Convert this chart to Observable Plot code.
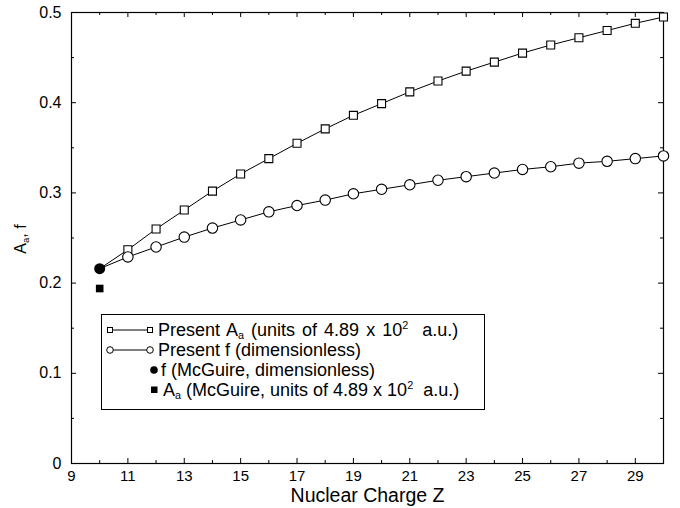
<!DOCTYPE html>
<html><head><meta charset="utf-8">
<script src="https://cdn.jsdelivr.net/npm/d3@7"></script>
<script src="https://cdn.jsdelivr.net/npm/@observablehq/plot@0.6"></script>
<style>
body{margin:0;background:#fff;font-family:"Liberation Sans",Arial,Helvetica,sans-serif;}
#wrap{position:relative;width:680px;height:508px;}
#legend{position:absolute;left:101px;top:314px;width:384px;height:96px;border:1px solid #000;background:#fff;box-sizing:border-box;font-size:18px;color:#000;}
.row{position:absolute;left:0;height:20px;line-height:20px;white-space:nowrap;}
.row svg{position:absolute;left:0;top:0;}
.row span{position:absolute;left:56px;top:0;line-height:20px;}
sub,sup{font-size:60%;line-height:0;vertical-align:baseline;position:relative;}
sub{top:0.3em;}
sup{top:-0.65em;}
#ylab{position:absolute;left:21px;top:239px;transform:translate(-50%,-50%) rotate(-90deg);font-size:16px;white-space:nowrap;}
</style></head>
<body><div id="wrap"><div id="chart"></div>
<div id="ylab">A<sub>a</sub>, f</div>
<div id="legend"></div>
</div>
<script>
// Data
const Z = [10,11,12,13,14,15,16,17,18,19,20,21,22,23,24,25,26,27,28,29,30];
const presentA = [0.216,0.237,0.260,0.281,0.302,0.321,0.338,0.355,0.371,0.386,0.399,0.412,0.424,0.435,0.445,0.455,0.464,0.472,0.480,0.488,0.495];
const presentF = [0.216,0.229,0.240,0.251,0.261,0.270,0.279,0.286,0.292,0.299,0.304,0.309,0.314,0.318,0.322,0.326,0.329,0.333,0.335,0.338,0.341];
const mcZ = [10];
const mcF = [0.216];
const mcA = [0.194];
const xMajor = [9,11,13,15,17,19,21,23,25,27,29];
const xMinor = [10,12,14,16,18,20,22,24,26,28];
const yMajor = [0,0.1,0.2,0.3,0.4,0.5];
const yMinor = [0.05,0.15,0.25,0.35,0.45];

const W=680,H=508,mL=71,mR=17,mT=12,mB=45;
const innerH=H-mT-mB, innerW=W-mL-mR;
const rowsA = Z.map((z,i)=>({z, v: presentA[i]}));
const rowsF = Z.map((z,i)=>({z, v: presentF[i]}));
const mcRowsF = mcZ.map((z,i)=>({z, v: mcF[i]}));
const mcRowsA = mcZ.map((z,i)=>({z, v: mcA[i]}));
const font = '"Liberation Sans",Arial,Helvetica,sans-serif';

const chart = Plot.plot({
  width:W, height:H, marginLeft:mL, marginRight:mR, marginTop:mT, marginBottom:mB,
  x:{domain:[9,30]}, y:{domain:[0,0.5]},
  style:{fontFamily:font, fontSize:"15px", color:"#000", background:"#fff", overflow:"visible"},
  marks:[
    Plot.frame({stroke:"#000", strokeWidth:1.2}),
    Plot.ruleX(xMajor,{x:d=>d, insetTop:innerH-5, stroke:"#000"}),
    Plot.ruleX(xMajor,{x:d=>d, insetBottom:innerH-5, stroke:"#000"}),
    Plot.ruleX(xMinor,{x:d=>d, insetTop:innerH-3, stroke:"#000"}),
    Plot.ruleX(xMinor,{x:d=>d, insetBottom:innerH-3, stroke:"#000"}),
    Plot.ruleY(yMajor,{y:d=>d, insetRight:innerW-5, stroke:"#000"}),
    Plot.ruleY(yMajor,{y:d=>d, insetLeft:innerW-5, stroke:"#000"}),
    Plot.ruleY(yMinor,{y:d=>d, insetRight:innerW-3, stroke:"#000"}),
    Plot.ruleY(yMinor,{y:d=>d, insetLeft:innerW-3, stroke:"#000"}),
    Plot.axisX(xMajor,{tickSize:0, tickPadding:7, label:null, fontSize:15}),
    Plot.axisY(yMajor,{tickSize:0, tickPadding:10, tickFormat:d=>String(d), label:null, fontSize:16}),
    Plot.text(["Nuclear Charge Z"],{frameAnchor:"bottom", dy:38, fontSize:19.5}),
    Plot.line(rowsA,{x:"z", y:"v", stroke:"#000", strokeWidth:1}),
    Plot.line(rowsF,{x:"z", y:"v", stroke:"#000", strokeWidth:1}),
    Plot.dot(rowsA.filter(d=>d.z>10),{x:"z", y:"v", symbol:"square", r:4.5, stroke:"#000", fill:"#fff", strokeWidth:1.1}),
    Plot.dot(rowsF.filter(d=>d.z>10),{x:"z", y:"v", symbol:"circle", r:5.2, stroke:"#000", fill:"#fff", strokeWidth:1.1}),
    Plot.dot(mcRowsF,{x:"z", y:"v", symbol:"circle", r:5.5, fill:"#000", stroke:"none"}),
    Plot.dot(mcRowsA,{x:"z", y:"v", symbol:"square", r:4.3, fill:"#000", stroke:"none"})
  ]
});
document.getElementById("chart").appendChild(chart);

// Legend
const legendItems = [
  {kind:"lineSquare", left:56, ws:2, html:'Present A<sub>a</sub> (units of 4.89 x 10<sup>2</sup>&nbsp; a.u.)'},
  {kind:"lineCircle", left:56, ws:0, html:'Present f (dimensionless)'},
  {kind:"dotCircle", left:59, ws:0, html:'f (McGuire, dimensionless)'},
  {kind:"dotSquare", left:61, ws:0, html:'A<sub>a</sub> (McGuire, units of 4.89 x 10<sup>2</sup>&nbsp; a.u.)'}
];
const lg = document.getElementById("legend");
legendItems.forEach((it,i)=>{
  const row = document.createElement("div");
  row.className="row"; row.style.top=(5+i*20)+"px"; row.style.width="100%";
  let s='';
  if(it.kind==="lineSquare"){
    s=`<line x1="8" y1="10" x2="48" y2="10" stroke="#000"/><rect x="5.5" y="7.5" width="5" height="5" fill="#fff" stroke="#000"/><rect x="45.5" y="7.5" width="5" height="5" fill="#fff" stroke="#000"/>`;
  } else if(it.kind==="lineCircle"){
    s=`<line x1="8" y1="10" x2="48" y2="10" stroke="#000"/><circle cx="8" cy="10" r="3.3" fill="#fff" stroke="#000"/><circle cx="48" cy="10" r="3.3" fill="#fff" stroke="#000"/>`;
  } else if(it.kind==="dotCircle"){
    s=`<circle cx="52" cy="10" r="3.8" fill="#000"/>`;
  } else {
    s=`<rect x="49" y="6.5" width="6.5" height="6.5" fill="#000"/>`;
  }
  row.innerHTML=`<svg width="60" height="20">${s}</svg><span style="left:${it.left}px;word-spacing:${it.ws}px">${it.html}</span>`;
  lg.appendChild(row);
});
</script>
</body></html>
